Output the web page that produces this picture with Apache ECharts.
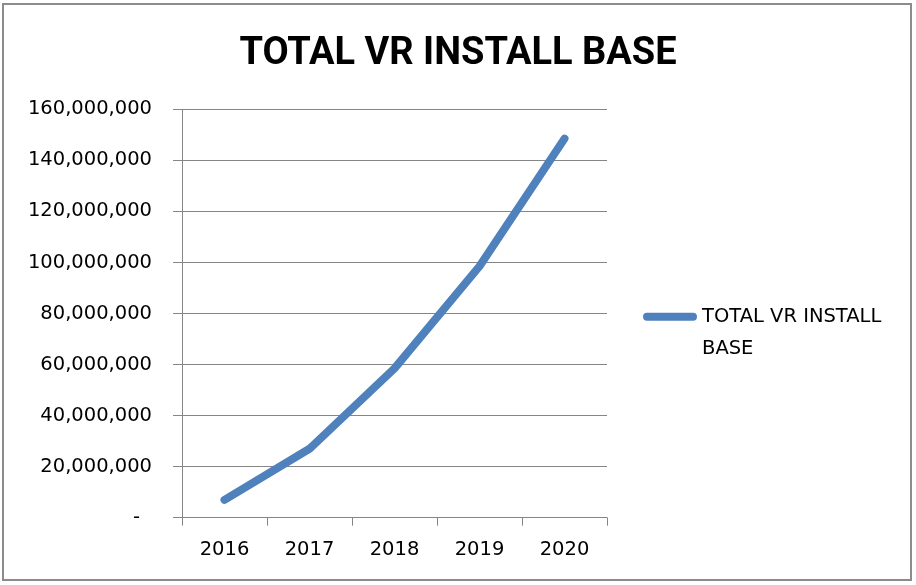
<!DOCTYPE html>
<html>
<head>
<meta charset="utf-8">
<title>TOTAL VR INSTALL BASE</title>
<script src="https://cdn.jsdelivr.net/npm/echarts@6/dist/echarts.min.js"></script>
<style>
    html, body { margin: 0; padding: 0; background: #ffffff; }
    #main { width: 916px; height: 585px; }
</style>
</head>
<body>
<div id="main"></div>
<script>
// 数据
var seriesName = 'TOTAL VR INSTALL BASE';
var years = ['2016', '2017', '2018', '2019', '2020'];
var installBase = [7000000, 27000000, 58500000, 98500000, 148500000];
var yTicks = [0, 20000000, 40000000, 60000000, 80000000, 100000000, 120000000, 140000000, 160000000];

var labelFont = '"DejaVu Sans", sans-serif';
var axisGray = '#868686';

function fmtAxis(v) {
    if (v === 0) {
        return '{z|-}';
    }
    return v.toLocaleString('en-US');
}

var myChart = echarts.init(document.getElementById('main'));
var option = {
    backgroundColor: '#ffffff',
    animation: false,
    graphic: [
        {
            type: 'rect',
            shape: { x: 3, y: 4, width: 908, height: 576 },
            style: { fill: 'none', stroke: '#8c8c8c', lineWidth: 2 },
            silent: true
        }
    ],
    title: {
        text: seriesName,
        left: 'center',
        top: 35,
        padding: 0,
        textStyle: {
            fontFamily: 'Roboto, "DejaVu Sans Condensed", sans-serif',
            fontWeight: 'bold',
            fontSize: 38,
            color: '#000000'
        }
    },
    legend: {
        data: [seriesName],
        left: 643,
        top: 268.7,
        padding: 0,
        selectedMode: false,
        icon: 'path://M4,0L50,0A4,4,0,0,1,50,8L4,8A4,4,0,0,1,4,0Z',
        itemWidth: 54,
        itemHeight: 8,
        formatter: function (name) {
            // 第一行留空，让第一行文字和图标对齐
            return ' \nTOTAL VR INSTALL\nBASE';
        },
        textStyle: {
            fontFamily: labelFont,
            fontSize: 19.5,
            lineHeight: 32,
            color: '#000000'
        }
    },
    grid: {
        left: 182,
        right: 309,
        top: 109.3,
        bottom: 67.3,
        containLabel: false
    },
    xAxis: [
        {
            type: 'category',
            boundaryGap: true,
            data: years,
            axisLine: { show: true, lineStyle: { color: axisGray, width: 1 } },
            axisTick: { show: true, length: 8, alignWithLabel: false, lineStyle: { color: axisGray } },
            axisLabel: {
                margin: 22,
                fontFamily: labelFont,
                fontSize: 19.5,
                color: '#000000'
            },
            splitLine: { show: false }
        }
    ],
    yAxis: [
        {
            type: 'value',
            min: yTicks[0],
            max: yTicks[yTicks.length - 1],
            interval: yTicks[1] - yTicks[0],
            axisLine: { show: true, lineStyle: { color: axisGray, width: 1 } },
            axisTick: { show: true, length: 9, lineStyle: { color: axisGray } },
            axisLabel: {
                margin: 30,
                fontFamily: labelFont,
                fontSize: 19.5,
                color: '#000000',
                formatter: fmtAxis,
                rich: {
                    z: {
                        fontFamily: labelFont,
                        fontSize: 19.5,
                        color: '#000000',
                        padding: [0, 12, 0, 0]
                    }
                }
            },
            splitLine: { show: true, lineStyle: { color: axisGray, width: 1 } }
        }
    ],
    series: [
        {
            name: seriesName,
            type: 'line',
            data: installBase,
            smooth: false,
            symbol: 'none',
            color: '#4F81BD',
            lineStyle: {
                color: '#4F81BD',
                width: 8,
                cap: 'round',
                join: 'round'
            }
        }
    ]
};
myChart.setOption(option);
</script>
</body>
</html>
